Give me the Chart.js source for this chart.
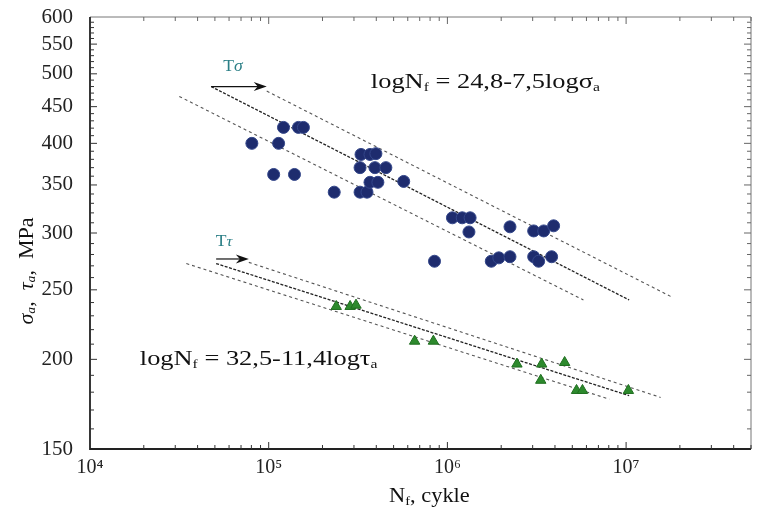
<!DOCTYPE html>
<html><head><meta charset="utf-8">
<script src="https://cdn.jsdelivr.net/npm/chart.js@4.4.0/dist/chart.umd.min.js"></script>
<style>html,body{margin:0;padding:0;background:#fff;}#wrap{width:758px;height:509px;}</style>
</head><body><div id="wrap"><canvas id="c" width="758" height="509"></canvas></div>
<script>
// ---- tick labels ----
const xTickValues = [1e4, 1e5, 1e6, 1e7];
const xTickLabels = ['10⁴', '10⁵', '10⁶', '10⁷'];
const yTickValues = [150, 200, 250, 300, 350, 400, 450, 500, 550, 600];
const yTickLabels = ['150', '200', '250', '300', '350', '400', '450', '500', '550', '600'];

// ---- sigma (normal stress) data, blue circles ----
const sigmaN = [80500, 113600, 121000, 146700, 156400, 106600, 139400, 232600, 324500, 354800,
                328600, 368800, 398100, 324500, 393000, 452600, 368800, 408300, 569600,
                1.067e6, 1.21e6, 1.34e6, 1.32e6, 2.24e6, 3.04e6, 3.46e6, 3.93e6,
                8.47e5, 1.76e6, 1.94e6, 2.24e6, 3.04e6, 3.24e6, 3.83e6];
const sigmaS = [400, 400, 421, 421, 421, 362, 362, 342, 342, 342,
                386, 386, 387, 370, 370, 370, 353, 353, 354,
                315, 315, 315, 301, 306, 302, 302, 307,
                274, 274, 277, 278, 278, 274, 278];

// ---- tau (shear stress) data, green triangles ----
const tauN = [238700, 285500, 308000, 655600, 835000, 2.45e6, 3.37e6, 4.53e6, 3.33e6, 5.28e6, 5.70e6, 1.03e7];
const tauS = [237, 237, 238, 212, 212, 197, 197, 198, 187, 181, 181, 181];

// ---- regression lines (endpoints) ----
const sigmaMeanN = [4.76e4, 1.04e7];  const sigmaMeanS = [480, 242];
const sigmaUpperN = [9.75e4, 1.82e7]; const sigmaUpperS = [473, 244];
const sigmaLowerN = [3.16e4, 5.77e6]; const sigmaLowerS = [465, 242];
const tauMeanN = [5.08e4, 1.04e7];    const tauMeanS = [272, 178];
const tauUpperN = [7.74e4, 1.56e7];   const tauUpperS = [273, 177];
const tauLowerN = [3.46e4, 8.05e6];   const tauLowerS = [272, 176];

const pts = (a, b) => a.map((v, i) => ({x: v, y: b[i]}));

// annotation anchors in data coordinates
const notes = {
  eq1: {n: 3.73e5, s: 486},
  eq2: {n: 1.9e4, s: 200},
  arrowSigma: {n0: 4.76e4, n1: 9.75e4, s: 480},
  arrowTau: {n0: 5.08e4, n1: 7.74e4, s: 276},
  labelSigma: {n: 6.31e4, s: 512},
  labelTau: {n: 5.62e4, s: 292}
};

const SERIF = '"Liberation Serif", "DejaVu Serif", serif';
const SX = 1.2; // horizontal stretch of the reference lettering

function drawRuns(ctx, runs, x, y, align, sx) {
  sx = sx || 1;
  let w = 0;
  runs.forEach(r => { ctx.font = r.font; w += ctx.measureText(r.t).width; });
  ctx.save();
  ctx.translate(x, y);
  ctx.scale(sx, 1);
  let cx = align === 'center' ? -w / 2 : 0;
  runs.forEach(r => {
    ctx.font = r.font;
    ctx.fillStyle = r.color || '#111';
    ctx.fillText(r.t, cx, r.dy || 0);
    cx += ctx.measureText(r.t).width;
  });
  ctx.restore();
}

function arrow(ctx, x0, y0, x1, y1) {
  ctx.strokeStyle = '#111'; ctx.fillStyle = '#111'; ctx.lineWidth = 1.2;
  ctx.beginPath(); ctx.moveTo(x0, y0); ctx.lineTo(x1 - 8, y1); ctx.stroke();
  ctx.beginPath(); ctx.moveTo(x1, y1); ctx.lineTo(x1 - 13, y1 - 4.5); ctx.lineTo(x1 - 9, y1); ctx.lineTo(x1 - 13, y1 + 4.5); ctx.closePath(); ctx.fill();
}

const decor = {
  id: 'decor',
  afterDatasetsDraw(chart) {
    const {ctx, chartArea: a, scales: {x, y}} = chart;
    ctx.save();
    // frame
    ctx.lineWidth = 1;
    ctx.strokeStyle = '#777';
    ctx.beginPath(); ctx.moveTo(a.left, a.top); ctx.lineTo(a.right, a.top); ctx.lineTo(a.right, a.bottom); ctx.stroke();
    ctx.lineWidth = 1.8; ctx.strokeStyle = '#222';
    ctx.beginPath(); ctx.moveTo(a.left, a.top); ctx.lineTo(a.left, a.bottom); ctx.lineTo(a.right, a.bottom); ctx.stroke();
    // x ticks
    ctx.lineWidth = 1;
    for (let d = 4; d <= 8; d++) {
      for (let k = 1; k <= 9; k++) {
        const v = k * Math.pow(10, d);
        if (v <= x.min || v > x.max) continue;
        const px = x.getPixelForValue(v);
        const len = k === 1 ? 7 : 4;
        ctx.strokeStyle = '#333';
        ctx.beginPath(); ctx.moveTo(px, a.bottom); ctx.lineTo(px, a.bottom - len); ctx.stroke();
        ctx.strokeStyle = '#666';
        ctx.beginPath(); ctx.moveTo(px, a.top); ctx.lineTo(px, a.top + len); ctx.stroke();
      }
    }
    // y ticks
    for (let v = 160; v < 600; v += 10) {
      const py = y.getPixelForValue(v);
      const len = v % 50 === 0 ? 7 : 4;
      ctx.strokeStyle = '#333';
      ctx.beginPath(); ctx.moveTo(a.left, py); ctx.lineTo(a.left + len, py); ctx.stroke();
      ctx.strokeStyle = '#666';
      ctx.beginPath(); ctx.moveTo(a.right, py); ctx.lineTo(a.right - len, py); ctx.stroke();
    }
    // arrows
    const as = notes.arrowSigma, at = notes.arrowTau;
    arrow(ctx, x.getPixelForValue(as.n0), y.getPixelForValue(as.s), x.getPixelForValue(as.n1), y.getPixelForValue(as.s));
    arrow(ctx, x.getPixelForValue(at.n0), y.getPixelForValue(at.s), x.getPixelForValue(at.n1), y.getPixelForValue(at.s));
    ctx.textBaseline = 'middle';
    const teal = '#2b7f86';
    drawRuns(ctx, [{t: 'T', font: '16px ' + SERIF, color: teal}, {t: 'σ', font: 'italic 16px ' + SERIF, color: teal}],
      x.getPixelForValue(notes.labelSigma.n), y.getPixelForValue(notes.labelSigma.s), 'center', 1.1);
    drawRuns(ctx, [{t: 'T', font: '16px ' + SERIF, color: teal}, {t: 'τ', font: 'italic 15px ' + SERIF, color: teal, dy: 1}],
      x.getPixelForValue(notes.labelTau.n), y.getPixelForValue(notes.labelTau.s), 'center', 1.1);
    // equations
    const f = '22px ' + SERIF, fs = '13px ' + SERIF;
    drawRuns(ctx, [{t: 'logN', font: f}, {t: 'f', font: fs, dy: 5}, {t: ' = 24,8-7,5logσ', font: f}, {t: 'a', font: fs, dy: 5}],
      x.getPixelForValue(notes.eq1.n), y.getPixelForValue(notes.eq1.s), 'left', SX);
    drawRuns(ctx, [{t: 'logN', font: f}, {t: 'f', font: fs, dy: 5}, {t: ' = 32,5-11,4logτ', font: f}, {t: 'a', font: fs, dy: 5}],
      x.getPixelForValue(notes.eq2.n), y.getPixelForValue(notes.eq2.s), 'left', SX);
    // axis titles
    drawRuns(ctx, [{t: 'N', font: '20px ' + SERIF}, {t: 'f', font: '13px ' + SERIF, dy: 5}, {t: ', cykle', font: '20px ' + SERIF}],
      x.getPixelForValue(1e6) - 18, 497, 'center', 1.12);
    ctx.save();
    ctx.translate(27, (a.top + a.bottom) / 2 + 38);
    ctx.rotate(-Math.PI / 2);
    drawRuns(ctx, [
      {t: 'σ', font: 'italic 21px ' + SERIF}, {t: 'a', font: 'italic 13px ' + SERIF, dy: 5},
      {t: ',  ', font: '21px ' + SERIF},
      {t: 'τ', font: 'italic 21px ' + SERIF}, {t: 'a', font: 'italic 13px ' + SERIF, dy: 5},
      {t: ',  MPa', font: '21px ' + SERIF}], 0, 0, 'center', 1.05);
    ctx.restore();
    ctx.restore();
  }
};

const lineDs = (n, s, color, dash, w) => ({
  data: pts(n, s), showLine: true, pointRadius: 0, borderColor: color, borderWidth: w,
  borderDash: dash, fill: false, order: 2
});

new Chart(document.getElementById('c'), {
  type: 'scatter',
  data: {
    datasets: [
      {data: pts(sigmaN, sigmaS), pointStyle: 'circle', pointRadius: 6, backgroundColor: '#1e2c6e', borderColor: '#34478a', borderWidth: 1, order: 1},
      {data: pts(tauN, tauS), pointStyle: 'triangle', pointRadius: 6, backgroundColor: '#2d8a2d', borderColor: '#1f6e1f', borderWidth: 1, order: 1},
      lineDs(sigmaMeanN, sigmaMeanS, '#222', [3, 1.5], 1.3),
      lineDs(sigmaUpperN, sigmaUpperS, '#555', [3, 3], 1.1),
      lineDs(sigmaLowerN, sigmaLowerS, '#555', [3, 3], 1.1),
      lineDs(tauMeanN, tauMeanS, '#222', [3, 1.5], 1.3),
      lineDs(tauUpperN, tauUpperS, '#555', [3, 3], 1.1),
      lineDs(tauLowerN, tauLowerS, '#555', [3, 3], 1.1)
    ]
  },
  options: {
    responsive: false, animation: false, devicePixelRatio: 1,
    layout: {padding: {top: 17, right: 1, left: 0, bottom: 0}},
    plugins: {legend: {display: false}, tooltip: {enabled: false}},
    scales: {
      x: {
        type: 'logarithmic', min: 1e4, max: 5e7,
        afterBuildTicks: s => { s.ticks = xTickValues.map(v => ({value: v})); },
        afterFit: s => { s.height = 60; s.paddingLeft = 0; s.paddingRight = 0; },
        grid: {display: false, drawTicks: false}, border: {display: false},
        ticks: {callback: (v, i) => xTickLabels[i], font: {family: SERIF, size: 20}, color: '#222', padding: 7, maxRotation: 0, autoSkip: false}
      },
      y: {
        type: 'logarithmic', min: 150, max: 600,
        afterBuildTicks: s => { s.ticks = yTickValues.map(v => ({value: v})); },
        afterFit: s => { s.width = 90; s.paddingTop = 0; s.paddingBottom = 0; },
        grid: {display: false, drawTicks: false}, border: {display: false},
        ticks: {callback: (v, i) => yTickLabels[i], font: {family: SERIF, size: 21}, color: '#222', padding: 17, autoSkip: false}
      }
    }
  },
  plugins: [decor]
});
</script></body></html>
